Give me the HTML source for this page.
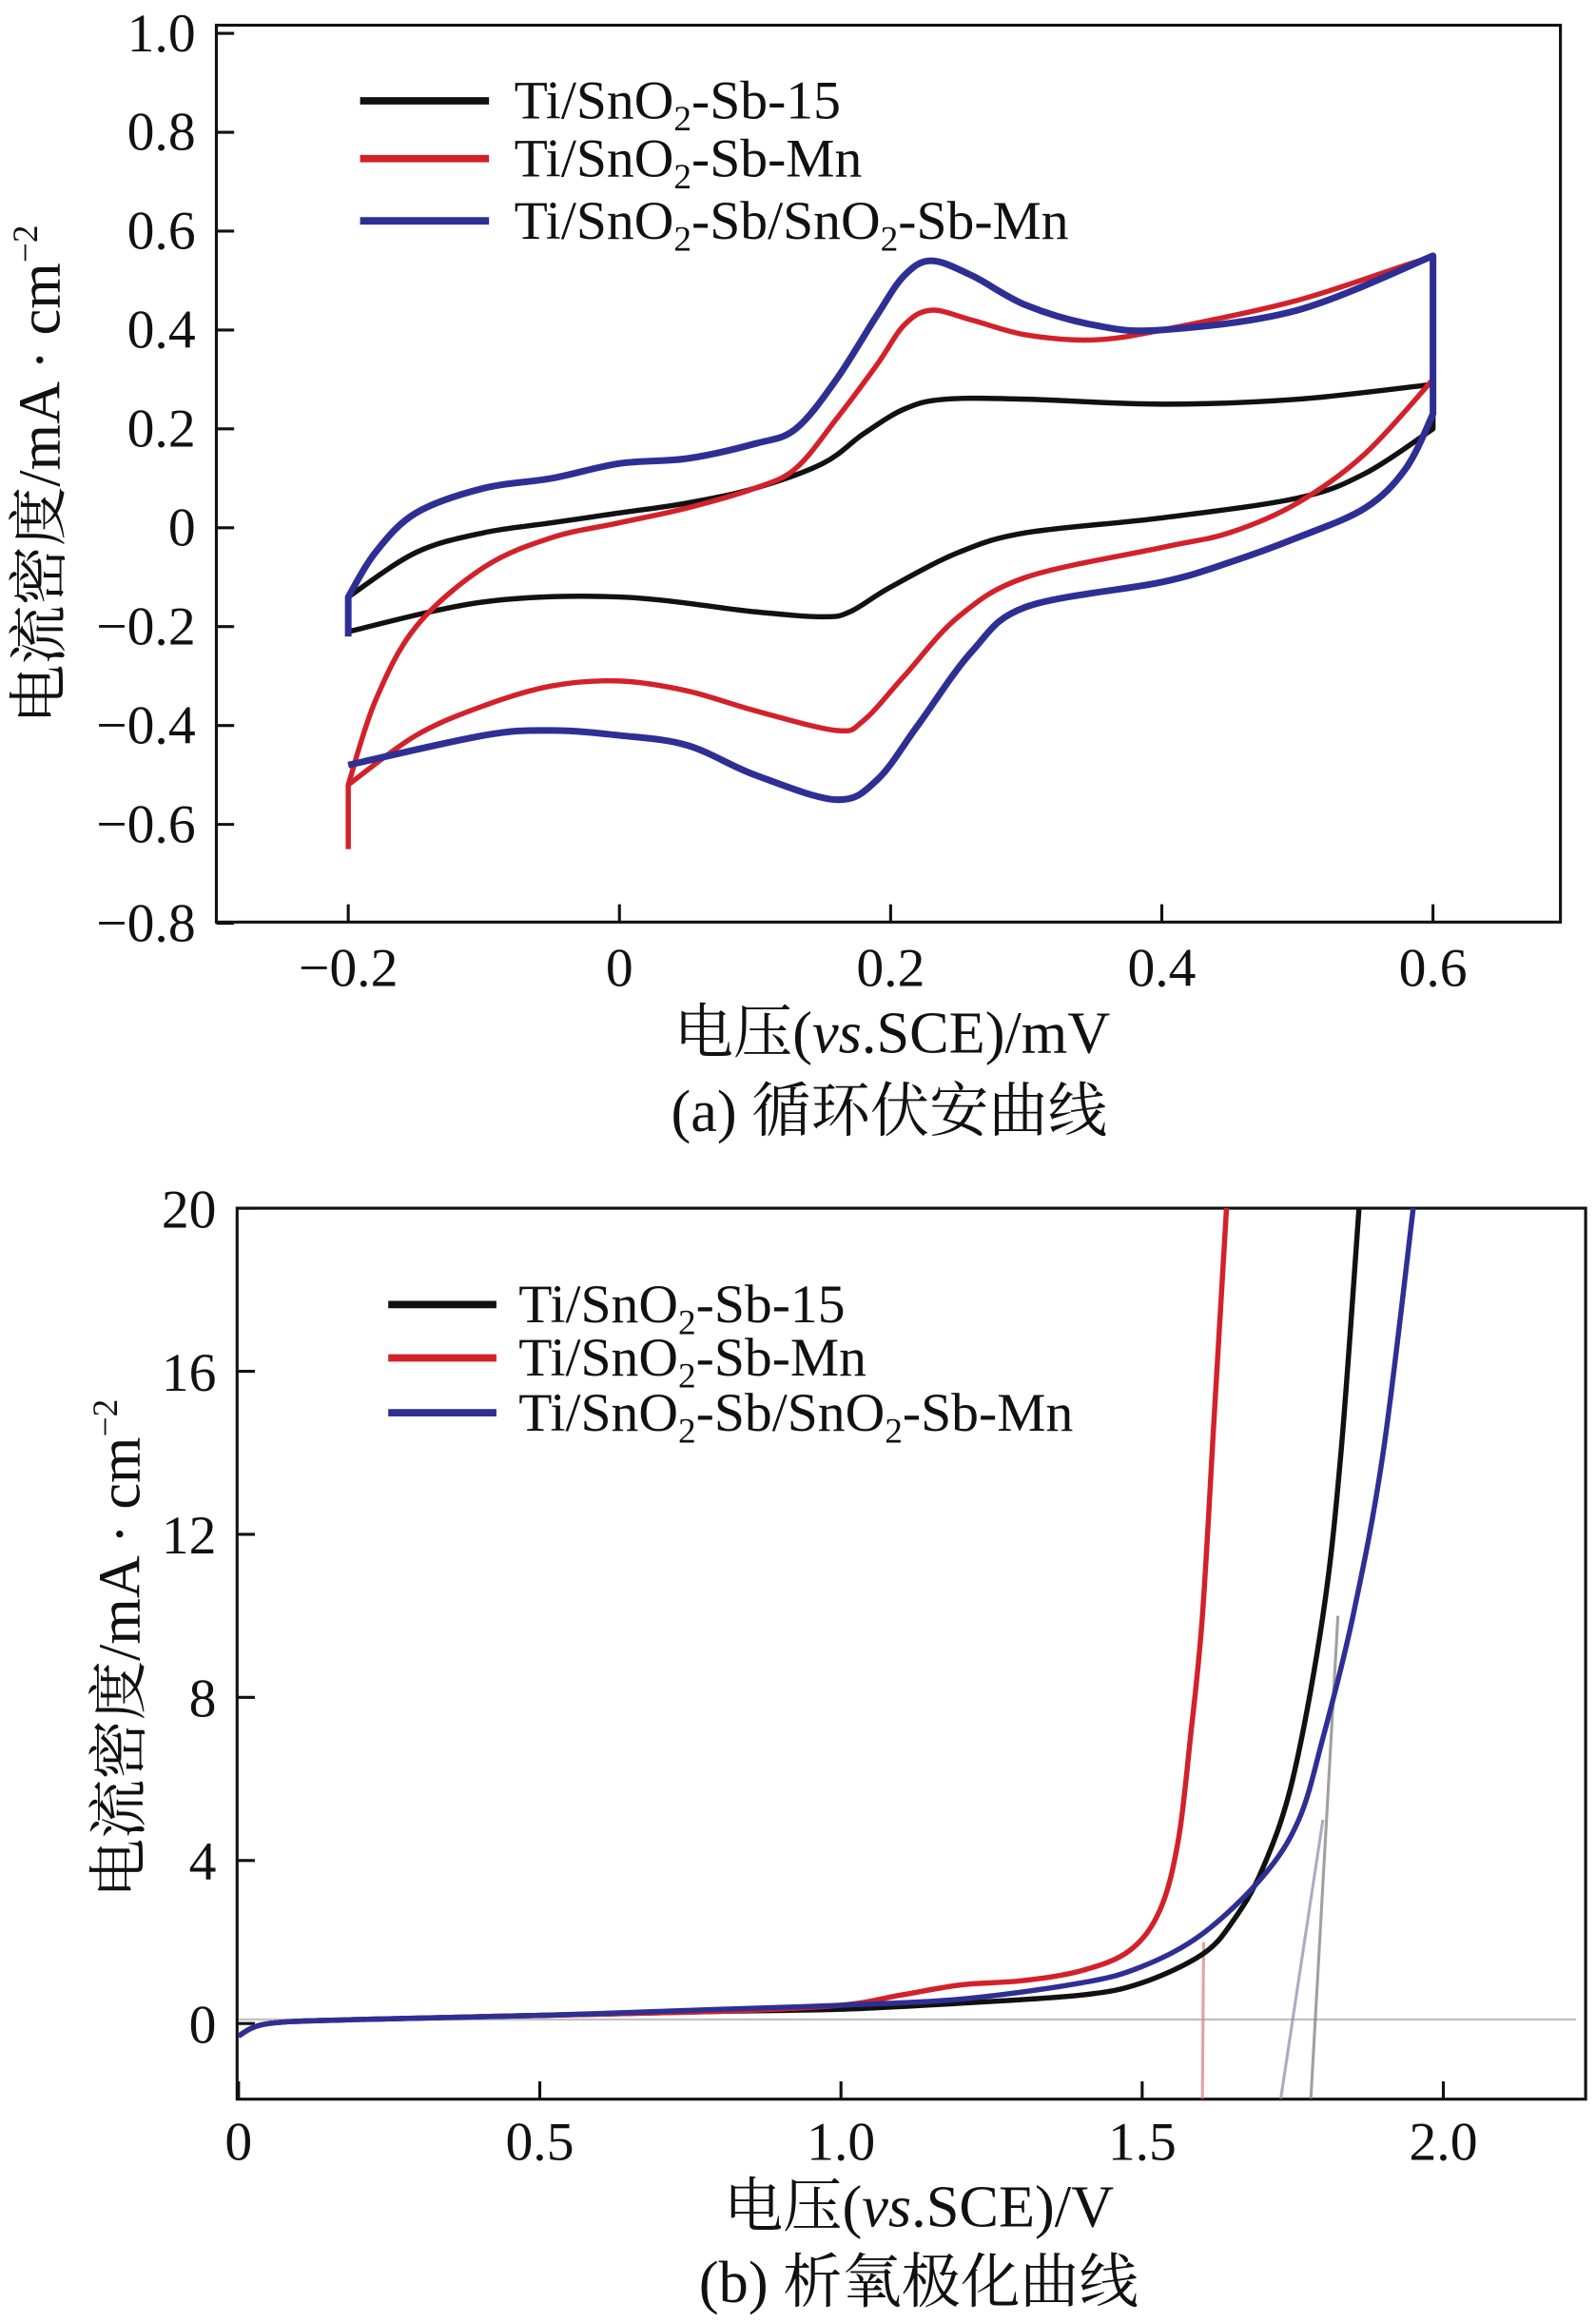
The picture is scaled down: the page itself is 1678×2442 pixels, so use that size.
<!DOCTYPE html>
<html><head><meta charset="utf-8"><style>
html,body{margin:0;padding:0;background:#fff}
svg{display:block}
text{font-family:"Liberation Serif","Noto Serif CJK SC",serif;fill:#111}
</style></head><body>
<svg id="s" width="1678" height="2442" viewBox="0 0 1077 1567" preserveAspectRatio="none"></svg>
<script>
// ---- Chart (a) CV data ----
const cvBlack = [[-0.2,-0.14],[-0.15,-0.05],[-0.1,-0.01],[-0.05,0.01],[0,0.03],[0.05,0.05],[0.1,0.08],[0.15,0.13],[0.18,0.19],[0.21,0.24],[0.24,0.26],[0.3,0.26],[0.4,0.25],[0.5,0.26],[0.6,0.29],[0.6,0.2],[0.55,0.11],[0.5,0.06],[0.4,0.02],[0.3,-0.01],[0.25,-0.05],[0.2,-0.12],[0.17,-0.17],[0.15,-0.18],[0.1,-0.17],[0,-0.14],[-0.1,-0.15],[-0.2,-0.21],[-0.2,-0.14]];
const cvRed = [[-0.2,-0.65],[-0.2,-0.52],[-0.18,-0.35],[-0.15,-0.2],[-0.1,-0.08],[-0.05,-0.02],[0,0.01],[0.05,0.04],[0.1,0.08],[0.13,0.12],[0.16,0.22],[0.19,0.33],[0.21,0.41],[0.23,0.44],[0.26,0.42],[0.3,0.39],[0.35,0.38],[0.4,0.4],[0.5,0.46],[0.59,0.54],[0.6,0.54],[0.6,0.3],[0.55,0.15],[0.5,0.05],[0.45,-0.01],[0.4,-0.04],[0.3,-0.1],[0.25,-0.18],[0.21,-0.3],[0.18,-0.39],[0.16,-0.41],[0.1,-0.37],[0.05,-0.33],[0,-0.31],[-0.05,-0.32],[-0.1,-0.36],[-0.15,-0.42],[-0.2,-0.52]];
const cvBlue = [[-0.2,-0.22],[-0.2,-0.14],[-0.18,-0.05],[-0.15,0.03],[-0.1,0.08],[-0.05,0.1],[0,0.13],[0.05,0.14],[0.1,0.17],[0.13,0.2],[0.16,0.3],[0.19,0.43],[0.21,0.51],[0.23,0.54],[0.26,0.51],[0.3,0.45],[0.35,0.41],[0.4,0.4],[0.5,0.44],[0.6,0.55],[0.6,0.23],[0.58,0.12],[0.55,0.04],[0.5,-0.02],[0.45,-0.07],[0.4,-0.11],[0.3,-0.16],[0.26,-0.25],[0.22,-0.4],[0.19,-0.51],[0.16,-0.55],[0.1,-0.5],[0.05,-0.44],[0,-0.42],[-0.05,-0.41],[-0.1,-0.42],[-0.2,-0.48]];
const cvYTicks = [1.0,0.8,0.6,0.4,0.2,0,-0.2,-0.4,-0.6,-0.8];
const cvYLabels = ["1.0","0.8","0.6","0.4","0.2","0","\u22120.2","\u22120.4","\u22120.6","\u22120.8"];
const cvXTicks = [-0.2,0,0.2,0.4,0.6];
const cvXLabels = ["\u22120.2","0","0.2","0.4","0.6"];
// ---- Chart (b) LSV data ----
const lsvBlack = [[0,-0.3],[0.05,0],[0.2,0.1],[0.5,0.2],[0.8,0.3],[1.0,0.35],[1.2,0.5],[1.4,0.7],[1.5,1.0],[1.6,1.7],[1.65,2.5],[1.7,3.8],[1.75,6],[1.8,10],[1.83,14],[1.86,20]];
const lsvRed = [[0,-0.3],[0.05,0],[0.2,0.1],[0.5,0.2],[0.8,0.3],[1.0,0.45],[1.1,0.7],[1.2,0.95],[1.3,1.05],[1.4,1.3],[1.48,1.8],[1.53,2.8],[1.56,4.5],[1.58,7],[1.6,10],[1.62,15],[1.64,20]];
const lsvBlue = [[0,-0.3],[0.05,0],[0.2,0.1],[0.5,0.2],[0.8,0.35],[1.0,0.45],[1.2,0.6],[1.4,1.0],[1.5,1.4],[1.6,2.2],[1.7,3.6],[1.76,5],[1.8,7],[1.85,10],[1.9,14],[1.95,20]];
const tanRed = [[1.6,-1.85],[1.602,2]];
const tanBlack = [[1.78,-1.85],[1.825,10]];
const tanBlue = [[1.73,-1.85],[1.8,5]];
const baseLine = [[0,0.1],[2.22,0.1]];
const lsvYTicks = [20,16,12,8,4,0];
const lsvYLabels = ["20","16","12","8","4","0"];
const lsvXTicks = [0,0.5,1.0,1.5,2.0];
const lsvXLabels = ["0","0.5","1.0","1.5","2.0"];

const NS="http://www.w3.org/2000/svg", svg=document.getElementById('s');
function el(t,a,p){const e=document.createElementNS(NS,t);for(const k in a)e.setAttribute(k,a[k]);(p||svg).appendChild(e);return e;}
function smooth(pts){let d=`M${pts[0][0]},${pts[0][1]}`;
const vert=i=>i>=0&&i<pts.length-1&&Math.abs(pts[i][0]-pts[i+1][0])<0.01;
for(let i=0;i<pts.length-1;i++){const p1=pts[i],p2=pts[i+1];
if(vert(i)){d+=` L${p2[0]},${p2[1]}`;continue;}
const p0=(i>0&&!vert(i-1))?pts[i-1]:p1, p3=(i+2<pts.length&&!vert(i+1))?pts[i+2]:p2;
const c1=[p1[0]+(p2[0]-p0[0])/6,p1[1]+(p2[1]-p0[1])/6],c2=[p2[0]-(p3[0]-p1[0])/6,p2[1]-(p3[1]-p1[1])/6];d+=` C${c1[0]},${c1[1]} ${c2[0]},${c2[1]} ${p2[0]},${p2[1]}`;}return d;}

const ax=v=>235+(v+0.2)/0.2*183, ay=v=>356-v/0.2*66.7;
const bx=v=>161+v*406.5, by=v=>1365-v*27.5;

function frame(x0,y0,x1,y1,name){const r=el('rect',{x:x0,y:y0,width:x1-x0,height:y1-y0,fill:'none',stroke:'#111','stroke-width':2});}
frame(146,17,1053,622,'plot-frame-a');
frame(160,815,1070,1416,'plot-frame-b');

cvYTicks.forEach((v,i)=>{const y=ay(v);const t=el('line',{x1:146,x2:158,y1:y,y2:y,stroke:'#111','stroke-width':2});
const l=el('text',{x:132,y:y+12,'font-size':37,'text-anchor':'end'});l.textContent=cvYLabels[i];});
cvXTicks.forEach((v,i)=>{const x=ax(v);const t=el('line',{x1:x,x2:x,y1:622,y2:610,stroke:'#111','stroke-width':2});
const l=el('text',{x:x,y:665,'font-size':37,'text-anchor':'middle'});l.textContent=cvXLabels[i];});
lsvYTicks.forEach((v,i)=>{const y=by(v);const t=el('line',{x1:160,x2:172,y1:y,y2:y,stroke:'#111','stroke-width':2});
const l=el('text',{x:146,y:y+13,'font-size':37,'text-anchor':'end'});l.textContent=lsvYLabels[i];});
lsvXTicks.forEach((v,i)=>{const x=bx(v);const t=el('line',{x1:x,x2:x,y1:1416,y2:1404,stroke:'#111','stroke-width':2});
const l=el('text',{x:x,y:1457,'font-size':37,'text-anchor':'middle'});l.textContent=lsvXLabels[i];});

function series(data,fx,fy,color,w,name,op){const p=el('path',{d:smooth(data.map(d=>[fx(d[0]),fy(d[1])])),fill:'none',stroke:color,'stroke-width':w,'stroke-linejoin':'round','stroke-opacity':op||1});}
series(cvBlack,ax,ay,'#111',3.5,'cv-black-curve');
series(cvRed,ax,ay,'#d3212a',3.5,'cv-red-curve');
series(cvBlue,ax,ay,'#2e2f94',4.5,'cv-blue-curve');

series(baseLine,bx,by,'#999',1.5,'baseline-b',0.6);
series(tanRed,bx,by,'#d77',2,'tangent-red',0.7);
series(tanBlack,bx,by,'#777',2,'tangent-black',0.7);
series(tanBlue,bx,by,'#88a',2,'tangent-blue',0.7);
series(lsvBlack,bx,by,'#111',3.5,'lsv-black-curve');
series(lsvRed,bx,by,'#d3212a',3.5,'lsv-red-curve');
series(lsvBlue,bx,by,'#2e2f94',3.5,'lsv-blue-curve');

function legend(x0,x1,tx,ys,prefix){const cols=['#111','#d3212a','#2e2f94'];
const labs=['Ti/SnO<tspan font-size="24" dy="8">2</tspan><tspan dy="-8">-Sb-15</tspan>','Ti/SnO<tspan font-size="24" dy="8">2</tspan><tspan dy="-8">-Sb-Mn</tspan>','Ti/SnO<tspan font-size="24" dy="8">2</tspan><tspan dy="-8">-Sb/SnO</tspan><tspan font-size="24" dy="8">2</tspan><tspan dy="-8">-Sb-Mn</tspan>'];
ys.forEach((y,i)=>{const l=el('line',{x1:x0,x2:x1,y1:y,y2:y,stroke:cols[i],'stroke-width':5});
const t=el('text',{x:tx,y:y+12,'font-size':37});t.innerHTML=labs[i];});}
legend(243,330,347,[68,107,149],'a');
legend(262,335,350,[880,916,953],'b');

function txt(x,y,html,name,rot){const t=el('text',{x:x,y:y,'font-size':40,'text-anchor':'middle'});if(rot)t.setAttribute('transform',`rotate(-90 ${x} ${y})`);t.innerHTML=html;}
txt(602,710,'电压(<tspan font-style="italic">vs</tspan>.SCE)/mV','x-axis-title-a');
txt(600,763,'(a) 循环伏安曲线','caption-a');
txt(40,320,'电流密度/mA · cm<tspan font-size="24" dy="-15">−2</tspan>','y-axis-title-a',true);
txt(620,1502,'电压(<tspan font-style="italic">vs</tspan>.SCE)/V','x-axis-title-b');
txt(620,1553,'(b) 析氧极化曲线','caption-b');
txt(94,1112,'电流密度/mA · cm<tspan font-size="24" dy="-15">−2</tspan>','y-axis-title-b',true);
</script>
</body></html>
